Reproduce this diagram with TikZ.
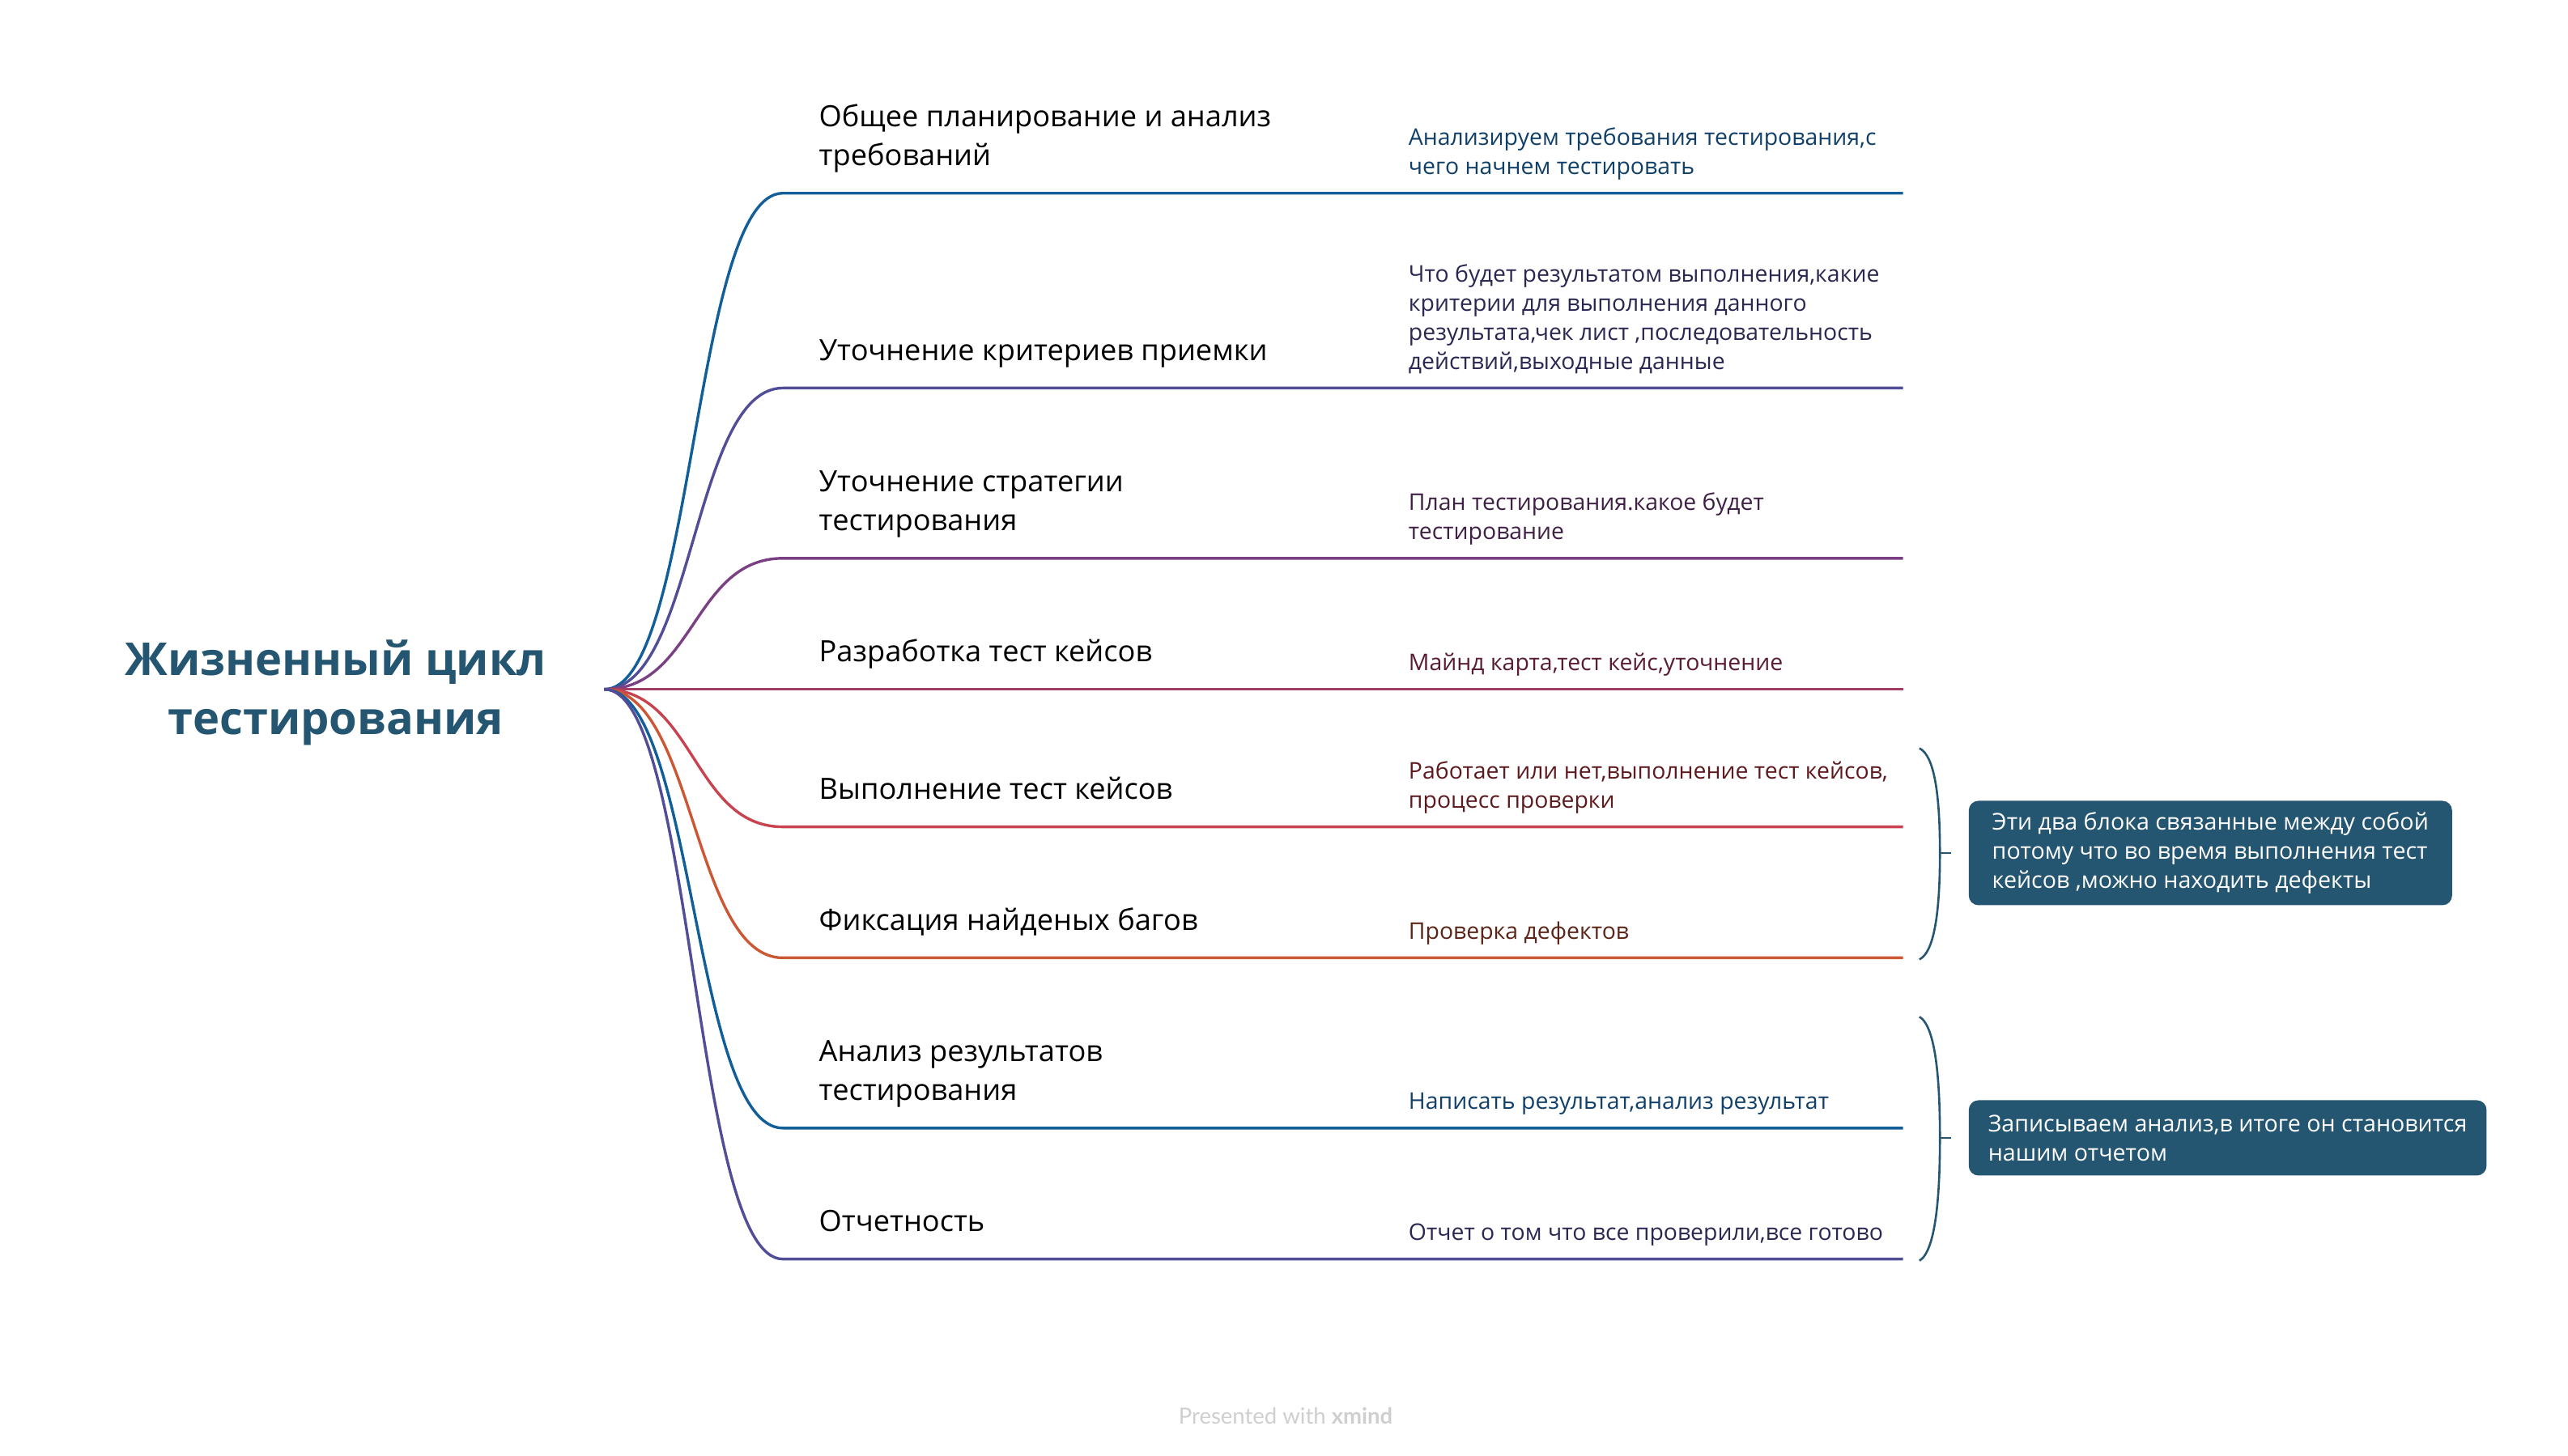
\documentclass[tikz,border=0pt]{standalone}
\usepackage{fontspec}
\setmainfont{Open Sans}
\newfontfamily\brandfont{Lato}

% branch colours
\definecolor{cA}{HTML}{115E99}
\definecolor{cB}{HTML}{524D97}
\definecolor{cC}{HTML}{7B3F84}
\definecolor{cD}{HTML}{A23E66}
\definecolor{cE}{HTML}{C7434F}
\definecolor{cF}{HTML}{CC5735}
% note text colours
\definecolor{nA}{HTML}{10406A}
\definecolor{nB}{HTML}{2A2752}
\definecolor{nC}{HTML}{3F1F45}
\definecolor{nD}{HTML}{5A1B34}
\definecolor{nE}{HTML}{5E1A1E}
\definecolor{nF}{HTML}{5B2416}
% title, braces and callouts
\definecolor{deepteal}{HTML}{245571}
\definecolor{footgray}{HTML}{CFCFCF}

\newcommand\stackedtext[1]{\begin{tabular}[b]{@{}l@{}}#1\end{tabular}}

\begin{document}
\begin{tikzpicture}[x=2.023pt,y=-2.023pt,
  branch/.style={line width=3.4pt},
  lbl/.style={anchor=base west, inner sep=0pt, text=black,
    font=\fontsize{36.2}{48}\selectfont},
  note/.style={anchor=base west, inner sep=0pt,
    font=\fontsize{28.4}{36}\selectfont},
  title/.style={align=center, text=deepteal, inner sep=0pt,
    font=\fontsize{56}{73}\selectfont\bfseries},
  callout/.style={fill=deepteal, rounded corners=12pt, text=white,
    align=left, anchor=west, inner xsep=24pt,
    font=\fontsize{28.6}{36}\selectfont},
  brace/.style={draw=deepteal, line width=2.6pt},
  footer/.style={text=footgray, inner sep=0pt,
    font=\brandfont\fontsize{27.5}{32}\selectfont}]

\useasboundingbox (0,0) rectangle (1568,889);

% central topic
\node[title] (title) at (205,423) {Жизненный цикл\\тестирования};
\coordinate (root) at (369,421);

% branch knees and ends
\foreach \i/\y in {1/118,2/237,3/341,4/421,5/505,6/585,7/689,8/769}{
  \coordinate (k\i) at (478,\y);
  \coordinate (e\i) at (1162,\y);
}

% connectors
\draw[branch,cA] (root) .. controls +(55,0) and +(-55,0) .. (k1) -- (e1);
\draw[branch,cB] (root) .. controls +(55,0) and +(-55,0) .. (k2) -- (e2);
\draw[branch,cC] (root) .. controls +(55,0) and +(-55,0) .. (k3) -- (e3);
\draw[branch,cD] (root) -- (k4) -- (e4);
\draw[branch,cE] (root) .. controls +(55,0) and +(-55,0) .. (k5) -- (e5);
\draw[branch,cF] (root) .. controls +(55,0) and +(-55,0) .. (k6) -- (e6);
\draw[branch,cA] (root) .. controls +(55,0) and +(-55,0) .. (k7) -- (e7);
\draw[branch,cB] (root) .. controls +(55,0) and +(-55,0) .. (k8) -- (e8);

% branch labels
\node[lbl] (l1) at (500,101) {\stackedtext{Общее планирование и анализ\\требований}};
\node[lbl] (l2) at (500,220) {Уточнение критериев приемки};
\node[lbl] (l3) at (500,324) {\stackedtext{Уточнение стратегии\\тестирования}};
\node[lbl] (l4) at (500,404) {Разработка тест кейсов};
\node[lbl] (l5) at (500,488) {Выполнение тест кейсов};
\node[lbl] (l6) at (500,568) {Фиксация найденых багов};
\node[lbl] (l7) at (500,672) {\stackedtext{Анализ результатов\\тестирования}};
\node[lbl] (l8) at (500,752) {Отчетность};

% notes
\node[note,text=nA] (n1) at (860,106.5) {\stackedtext{Анализируем требования тестирования,с\\чего начнем тестировать}};
\node[note,text=nB] (n2) at (860,225.5) {\stackedtext{Что будет результатом выполнения,какие\\критерии для выполнения данного\\результата,чек лист ,последовательность\\действий,выходные данные}};
\node[note,text=nC] (n3) at (860,329.5) {\stackedtext{План тестирования.какое будет\\тестирование}};
\node[note,text=nD] (n4) at (860,409.5) {Майнд карта,тест кейс,уточнение};
\node[note,text=nE] (n5) at (860,493.5) {\stackedtext{Работает или нет,выполнение тест кейсов,\\процесс проверки}};
\node[note,text=nF] (n6) at (860,573.5) {Проверка дефектов};
\node[note,text=nA] (n7) at (860,677.5) {Написать результат,анализ результат};
\node[note,text=nB] (n8) at (860,757.5) {Отчет о том что все проверили,все готово};

% summaries
\node[callout, minimum width=597pt, minimum height=129pt] (s1) at (1202,521)
  {Эти два блока связанные между собой\\потому что во время выполнения тест\\кейсов ,можно находить дефекты};
\node[callout, minimum width=639pt, minimum height=93pt] (s2) at (1202,695)
  {Записываем анализ,в итоге он становится\\нашим отчетом};

% braces
\coordinate (b1t) at (1172,457);
\coordinate (b1m) at (1184.5,521);
\coordinate (b1b) at (1172,586);
\coordinate (b1x) at (1191.5,521);
\draw[brace] (b1t) .. controls (1182,462) and (1184.5,490) .. (b1m)
  .. controls (1184.5,552) and (1182,581) .. (b1b);
\draw[brace] (b1m) -- (b1x);

\coordinate (b2t) at (1172,621);
\coordinate (b2m) at (1184.5,695);
\coordinate (b2b) at (1172,770);
\coordinate (b2x) at (1191.5,695);
\draw[brace] (b2t) .. controls (1182,627) and (1184.5,660) .. (b2m)
  .. controls (1184.5,730) and (1182,764) .. (b2b);
\draw[brace] (b2m) -- (b2x);

% footer
\node[footer] (foot) at (785,865) {Presented with \textbf{xmind}};

\end{tikzpicture}
\end{document}
